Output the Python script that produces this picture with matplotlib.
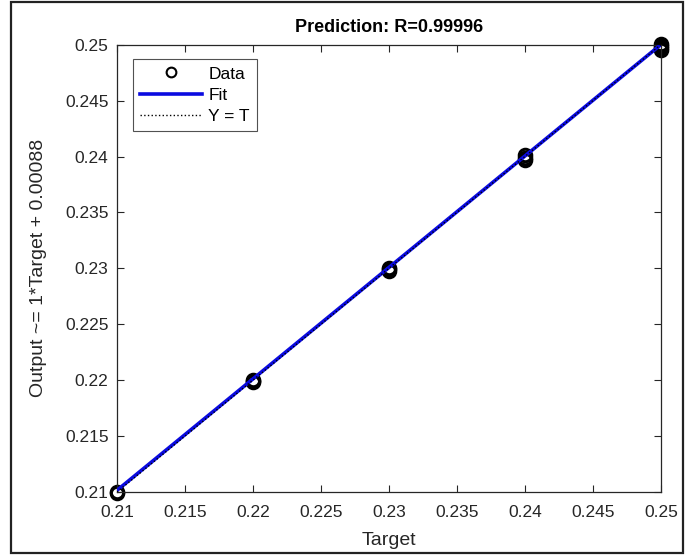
"""Regression plot: predicted output versus target (MATLAB-style)."""

import matplotlib

matplotlib.use("Agg")
import matplotlib.pyplot as plt
from matplotlib.patches import Rectangle
import numpy as np

# data
target = [0.21, 0.21, 0.22, 0.22, 0.22, 0.23, 0.23, 0.23,
          0.24, 0.24, 0.24, 0.25, 0.25, 0.25, 0.25]
output = [0.2100, 0.2099, 0.2200, 0.2199, 0.2198, 0.2300, 0.2299, 0.2298,
          0.2401, 0.2399, 0.2397, 0.2501, 0.2499, 0.2497, 0.2495]
fit_slope = 0.9965
fit_intercept = 0.00088
ticks = [0.21, 0.215, 0.22, 0.225, 0.23, 0.235, 0.24, 0.245, 0.25]
tick_labels = ["0.21", "0.215", "0.22", "0.225", "0.23", "0.235", "0.24", "0.245", "0.25"]

plt.rcParams.update({
    "font.family": ["Liberation Sans", "DejaVu Sans"],
    "font.size": 12,
})

fig = plt.figure(figsize=(6.92, 5.55), dpi=100)
ax = fig.add_axes([0.169, 0.1135, 0.786, 0.806])

# outer screenshot frame
fig.patches.append(Rectangle((11 / 692, 2 / 555), 672 / 692, 551 / 555,
                             transform=fig.transFigure, fill=False,
                             edgecolor="#222222", linewidth=1.6))

xs = np.array([ticks[0], ticks[-1]])
ax.plot(target, output, linestyle="none", marker="o", markersize=9,
        markerfacecolor="none", markeredgecolor="black", markeredgewidth=2.2,
        label="Data", zorder=2, clip_on=False)
ax.plot(xs, fit_slope * xs + fit_intercept, color="#0a0ae0", linewidth=2.6,
        label="Fit", zorder=3)
ax.plot(xs, xs, color="black", linestyle=":", linewidth=1.0,
        label="Y = T", zorder=4)

ax.set_xlim(ticks[0], ticks[-1])
ax.set_ylim(ticks[0], ticks[-1])
ax.set_xticks(ticks)
ax.set_xticklabels(tick_labels)
ax.set_yticks(ticks)
ax.set_yticklabels(tick_labels)
ax.tick_params(direction="in", top=True, right=True, length=5, width=0.8,
               labelsize=12.5, colors="#262626", pad=6)
ax.tick_params(axis="x", pad=9)
for spine in ax.spines.values():
    spine.set_linewidth(0.9)
    spine.set_color("#262626")

ax.set_xlabel("Target", fontsize=14, color="#262626", labelpad=9)
ax.set_ylabel("Output ~= 1*Target + 0.00088", fontsize=14, color="#262626",
              labelpad=13)
ax.set_title("Prediction: R=0.99996", fontsize=13, fontweight="bold", pad=9)

leg = ax.legend(loc="upper left", bbox_to_anchor=(0.029, 0.967),
                frameon=True, fancybox=False, edgecolor="#262626",
                fontsize=12.5, handlelength=3.6, handletextpad=0.35,
                borderpad=0.4, labelspacing=0.35, borderaxespad=0.0)
leg.get_frame().set_linewidth(0.8)
for h in leg.legend_handles:
    h.set_markersize(7)
    h.set_markeredgewidth(1.5)

fig.savefig("out.png", dpi=100)
